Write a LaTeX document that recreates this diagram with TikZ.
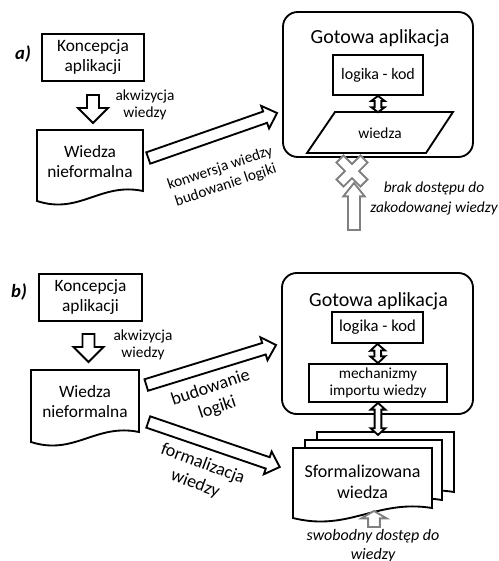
\documentclass[tikz,border=0pt]{standalone}
\usepackage{fontspec}
\setmainfont{Carlito}
\usetikzlibrary{calc}

\tikzset{
  box/.style={draw, line width=1.4pt, fill=white, align=center, inner sep=0pt},
  appbox/.style={draw, line width=1.4pt, rounded corners=11pt},
  doc/.style={draw, line width=1.4pt, fill=white},
  arr/.style={draw, line width=1.4pt, fill=white, line join=miter},
  garr/.style={arr, draw=gray},
  txt/.style={align=center, inner sep=0pt},
}

% hollow block arrow: from, to, half shaft, half head, head length
\newcommand{\hollowarrow}[6][]{%
  \coordinate (hh) at ($(#3)!#6!(#2)$);
  \draw[arr,#1] ($(#2)!#4!90:(#3)$) -- ($(hh)!#4!-90:(#2)$) -- ($(hh)!#5!-90:(#2)$) -- (#3)
    -- ($(hh)!#5!90:(#2)$) -- ($(hh)!#4!90:(#2)$) -- ($(#2)!#4!-90:(#3)$) -- cycle;}

% hollow arrow with two heads
\newcommand{\dblarrow}[6][]{%
  \coordinate (dh1) at ($(#2)!#6!(#3)$);
  \coordinate (dh2) at ($(#3)!#6!(#2)$);
  \draw[arr,#1] (#2) -- ($(dh1)!#5!90:(#3)$) -- ($(dh1)!#4!90:(#3)$) -- ($(dh2)!#4!-90:(#2)$)
    -- ($(dh2)!#5!-90:(#2)$) -- (#3) -- ($(dh2)!#5!90:(#2)$) -- ($(dh2)!#4!90:(#2)$)
    -- ($(dh1)!#4!-90:(#3)$) -- ($(dh1)!#5!-90:(#3)$) -- cycle;}

% document with wavy bottom: x, y, width, height
\newcommand{\docshape}[5][]{%
  \draw[doc,#1] (#2,#3) -- ({#2+#4},#3) -- ({#2+#4},{#3+#5-10})
    .. controls ({#2+0.6*#4},{#3+#5-19}) and ({#2+0.4*#4},{#3+#5+14}) .. (#2,{#3+#5}) -- cycle;}

\begin{document}
\begin{tikzpicture}[x=0.75pt,y=-0.75pt]
  \useasboundingbox (0,0) rectangle (499,561);

  % a)
  \node[txt, font=\fontsize{14}{16}\selectfont\bfseries\itshape] (laba) at (23,54) {a)};
  \node[box, minimum width=76.5pt, minimum height=35.25pt, font=\fontsize{13}{15}\selectfont] (kon1) at (93,57.5) {Koncepcja\\aplikacji};
  \docshape{37}{130}{106}{71}
  \node[txt, minimum width=79.5pt, minimum height=48pt, font=\fontsize{13}{15}\selectfont] (wie1) at (90,162) {Wiedza\\nieformalna};
  \coordinate (d1s) at ($(kon1.south)+(0,13)$);
  \coordinate (d1e) at ($(kon1.south)+(0,41)$);
  \hollowarrow{d1s}{d1e}{4.5pt}{11.25pt}{11.25pt}
  \node[txt, font=\fontsize{11.5}{12.75}\selectfont] (akw1) at (145,105) {akwizycja\\wiedzy};

  \node[appbox, minimum width=142.5pt, minimum height=108.75pt] (app1) at (378,84.5) {};
  \node[txt, font=\fontsize{15}{18}\selectfont] (tit1) at (380,38) {Gotowa aplikacja};
  \node[box, minimum width=67.5pt, minimum height=30pt, font=\fontsize{12}{14}\selectfont] (kod1) at (378,75) {logika - kod};
  \draw[doc] (335,112) -- (453,112) -- (426,153) -- (307,153) -- cycle;
  \node[txt, minimum height=30.75pt, font=\fontsize{11.5}{14}\selectfont] (wdz1) at (380,133) {wiedza};
  \coordinate (w1t) at (kod1.south |- wdz1.north);
  \dblarrow{kod1.south}{w1t}{2.5pt}{5pt}{3.75pt}

  \coordinate (b1s) at ($(wie1.east)+(5,-4)$);
  \coordinate (b1e) at ($(app1.west)+(-5,28.5)$);
  \hollowarrow{b1s}{b1e}{4.5pt}{9pt}{9.5pt}
  \node[txt, rotate=18.5, font=\fontsize{11.5}{13.5}\selectfont] (kw1) at (223,177) {konwersja wiedzy\\budowanie logiki};

  \draw[garr, shift={(352,171)}, rotate=45] (5,-17) -- (5,-5) -- (17,-5) -- (17,5) -- (5,5) -- (5,17)
    -- (-5,17) -- (-5,5) -- (-17,5) -- (-17,-5) -- (-5,-5) -- (-5,-17) -- cycle;
  \coordinate (g1s) at (354,230);
  \coordinate (g1e) at (354,183);
  \hollowarrow[garr]{g1s}{g1e}{4.5pt}{8pt}{10pt}
  \node[txt, font=\fontsize{11.5}{15}\selectfont\itshape] (brk1) at (434,198) {brak dostępu do\\zakodowanej wiedzy};

  % b)
  \node[txt, font=\fontsize{14}{16}\selectfont\bfseries\itshape] (labb) at (19,292) {b)};
  \node[box, minimum width=77.25pt, minimum height=35.25pt, font=\fontsize{13}{15}\selectfont] (kon2) at (90.5,297.5) {Koncepcja\\aplikacji};
  \docshape{31}{370}{108}{72}
  \node[txt, minimum width=81pt, minimum height=48pt, font=\fontsize{13}{15}\selectfont] (wie2) at (85,402) {Wiedza\\nieformalna};
  \coordinate (d2s) at ($(kon2.south)+(-2,12)$);
  \coordinate (d2e) at ($(kon2.south)+(-2,40)$);
  \hollowarrow{d2s}{d2e}{4.5pt}{11.25pt}{11.25pt}
  \node[txt, font=\fontsize{11.5}{12.75}\selectfont] (akw2) at (143,345) {akwizycja\\wiedzy};

  \node[appbox, minimum width=143.25pt, minimum height=105.75pt] (app2) at (377.5,343.5) {};
  \node[txt, font=\fontsize{15}{18}\selectfont] (tit2) at (378.5,301) {Gotowa aplikacja};
  \node[box, minimum width=68.25pt, minimum height=23.25pt, font=\fontsize{12.5}{14}\selectfont] (kod2) at (377.5,327.5) {logika - kod};
  \node[box, minimum width=103.5pt, minimum height=28.5pt, font=\fontsize{11.5}{13}\selectfont] (mech2) at (378,383) {mechanizmy\\importu wiedzy};
  \dblarrow{kod2.south}{mech2.north}{2.5pt}{5.5pt}{5pt}

  \docshape{317}{432}{137}{70}
  \docshape{305}{440}{137}{70}
  \docshape{293}{448}{139}{70}
  \node[txt, minimum width=104.25pt, minimum height=51pt, font=\fontsize{13.5}{16}\selectfont] (sfo2) at (362.5,482) {Sformalizowana\\wiedza};
  \coordinate (m2e) at ($(mech2.south)+(0,32)$);
  \dblarrow{mech2.south}{m2e}{2.5pt}{5.5pt}{5pt}

  \coordinate (c1s) at ($(wie2.east)+(7,-17)$);
  \coordinate (c1e) at ($(app2.west)+(-5,1.5)$);
  \hollowarrow{c1s}{c1e}{4.5pt}{9pt}{9.5pt}
  \node[txt, rotate=18.5, font=\fontsize{13.5}{16}\selectfont] (kw2) at (214,398) {budowanie\\logiki};
  \coordinate (c2s) at ($(wie2.east)+(9,20)$);
  \coordinate (c2e) at ($(sfo2.west)+(-13,-15)$);
  \hollowarrow{c2s}{c2e}{4.5pt}{9pt}{9.5pt}
  \node[txt, rotate=-20.5, font=\fontsize{13.5}{16}\selectfont] (fw2) at (199,474) {formalizacja\\wiedzy};

  \coordinate (g2s) at (374,527);
  \coordinate (g2e) at (374,511);
  \hollowarrow[garr]{g2s}{g2e}{4.4pt}{9.4pt}{5.5pt}
  \node[txt, font=\fontsize{12}{14.25}\selectfont\itshape] (swo2) at (373,545.5) {swobodny dostęp do\\wiedzy};
\end{tikzpicture}
\end{document}
